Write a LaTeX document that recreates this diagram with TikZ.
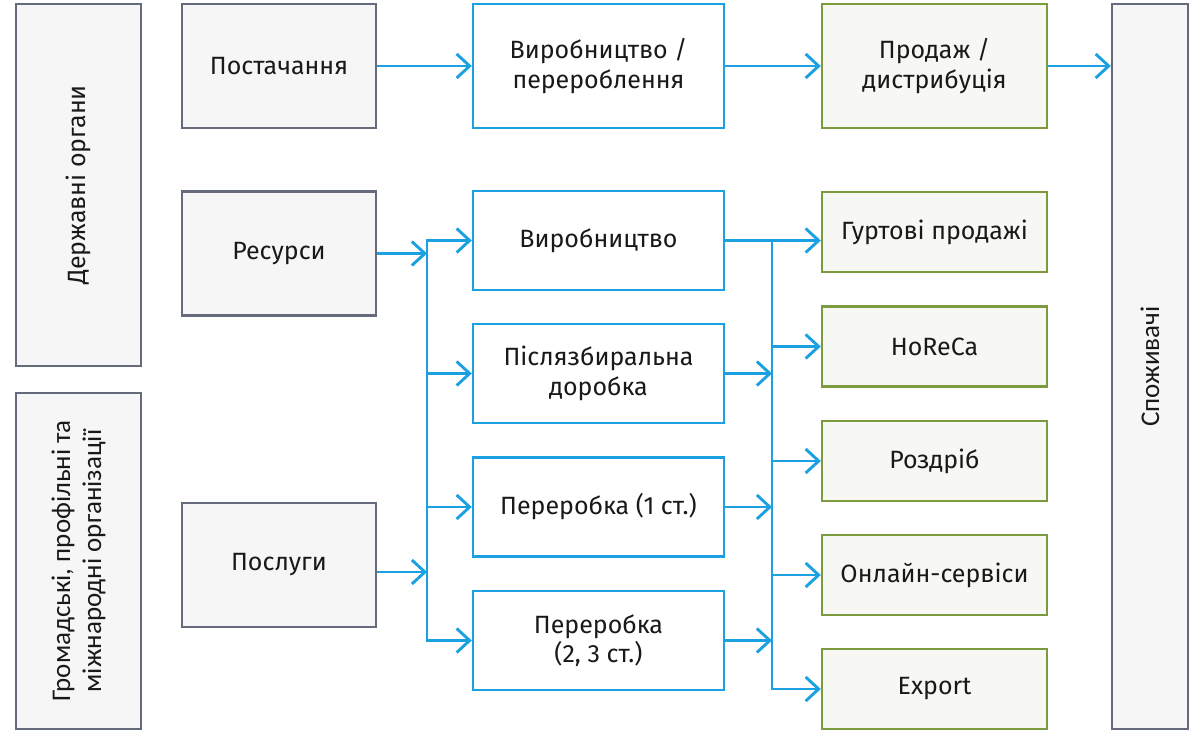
\documentclass[tikz,border=0pt]{standalone}
\usepackage{fontspec}
\setmainfont{Fira Sans}
\newfontfamily\condfont{Carlito}
\usetikzlibrary{arrows.meta}
\definecolor{flowblue}{HTML}{1BA1E2}
\definecolor{framegray}{HTML}{666B7C}
\definecolor{fillgray}{HTML}{F6F6F6}
\definecolor{salegreen}{HTML}{7B9B3E}
\definecolor{fillgreen}{HTML}{F7F8F3}

\begin{document}
\begin{tikzpicture}[x=0.5pt,y=-0.5pt,
    font=\fontsize{12.5}{14.7}\selectfont,
    box/.style={draw, line width=1.2pt, align=center, inner sep=0pt, text=black!90},
    actor/.style={box, draw=framegray, fill=fillgray, minimum width=97pt, minimum height=62pt},
    side/.style={box, draw=framegray, fill=fillgray, rotate=90},
    stage/.style={box, draw=flowblue, fill=white, minimum width=125.5pt, minimum height=49.5pt},
    sale/.style={box, draw=salegreen, fill=fillgreen, minimum width=112.5pt, minimum height=40pt},
    bus/.style={draw=flowblue, line width=1.45pt, line cap=rect},
    flow/.style={draw=flowblue, line width=1.45pt, -{Straight Barb[length=6.5pt,width=12pt]}}]
    \useasboundingbox (0,0) rectangle (1203,731);

    \node[side, minimum width=181pt, minimum height=62.5pt] (gov) at (78.5,185) {Державні органи};
    \node[side, minimum width=168pt, minimum height=62.5pt, font=\condfont\fontsize{13.5}{15.5}\selectfont] (ngo) at (78.5,561)
        {Громадські, профільні та\\міжнародні організації};

    \node[actor] (supply) at (279,66) {Постачання};
    \node[actor] (res) at (279,253.5) {Ресурси};
    \node[actor] (serv) at (279,565) {Послуги};

    \node[stage, minimum height=62pt] (make) at (598.5,66) {Виробництво /\\перероблення};
    \node[stage] (prodn) at (598.5,240.5) {Виробництво};
    \node[stage] (post) at (598.5,373.5) {Післязбиральна\\доробка};
    \node[stage] (proc1) at (598.5,507) {Переробка (1 ст.)};
    \node[stage] (proc2) at (598.5,640.5) {Переробка\\(2, 3 ст.)};

    \node[sale, minimum height=62pt] (sales) at (934.5,66) {Продаж /\\дистрибуція};
    \node[sale] (whole) at (934.5,232) {Гуртові продажі};
    \node[sale] (horeca) at (934.5,346.5) {HoReCa};
    \node[sale] (retail) at (934.5,461) {Роздріб};
    \node[sale] (online) at (934.5,575) {Онлайн-сервіси};
    \node[sale] (export) at (934.5,689) {Export};

    \node[side, minimum width=362.5pt, minimum height=38pt, font=\condfont\fontsize{13.5}{15.5}\selectfont] (cons) at (1150,366.5) {Споживачі};

    \coordinate (lbus) at (427,0);
    \coordinate (rbus) at (772,0);
    \coordinate (servout) at ([yshift=-3.5pt]serv.east);

    \draw[flow] (supply) -- (make);
    \draw[flow] (make) -- (sales);
    \draw[flow] (sales.east) -- (sales.east -| cons.north);

    \draw[bus] (lbus |- prodn.west) -- (lbus |- proc2.west);
    \draw[flow] (res.east) -- (res.east -| lbus);
    \draw[flow] (servout) -- (servout -| lbus);
    \foreach \n in {prodn,post,proc1,proc2}
        \draw[flow] (lbus |- \n.west) -- (\n.west);

    \draw[bus] (rbus |- prodn.east) -- (rbus |- export.west);
    \draw[flow] (prodn.east) -- (prodn.east -| whole.west);
    \foreach \n in {post,proc1,proc2}
        \draw[flow] (\n.east) -- (\n.east -| rbus);
    \foreach \n in {horeca,retail,online,export}
        \draw[flow] (rbus |- \n.west) -- (\n.west);
\end{tikzpicture}
\end{document}
